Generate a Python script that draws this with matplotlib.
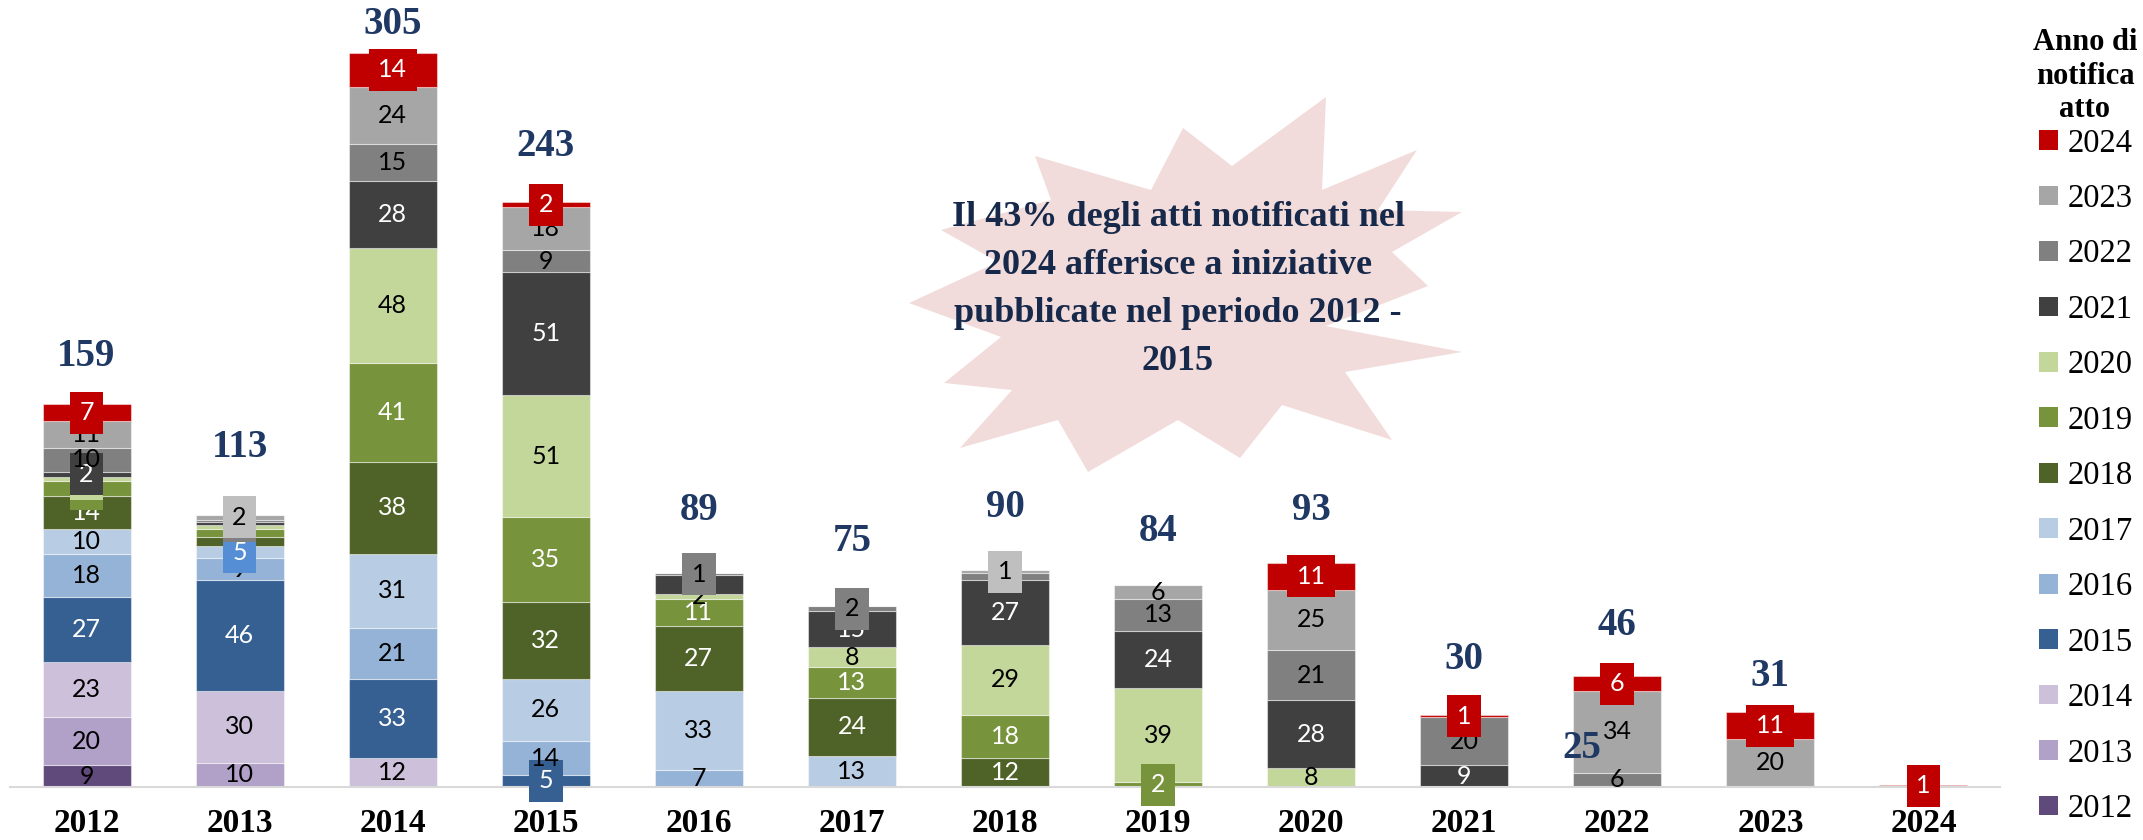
"""
Atti notificati per anno di pubblicazione dell'iniziativa (barre impilate
per anno di notifica dell'atto), con totale sopra ogni barra.

Salida: out.png
"""

import matplotlib

matplotlib.use("Agg")
import matplotlib.pyplot as plt
from matplotlib.patches import Patch, Polygon

# ── Dati ───────────────────────────────────────────────────────────────────────

ANNI_PUBBLICAZIONE = ["2012", "2013", "2014", "2015", "2016", "2017", "2018",
                      "2019", "2020", "2021", "2022", "2023", "2024"]
ANNI_NOTIFICA = ["2012", "2013", "2014", "2015", "2016", "2017", "2018",
                 "2019", "2020", "2021", "2022", "2023", "2024"]

# un elenco per anno di notifica, indicizzato per anno di pubblicazione
NOTIFICA_2012 = [9, 0, 0, 0, 0, 0, 0, 0, 0, 0, 0, 0, 0]
NOTIFICA_2013 = [20, 10, 0, 0, 0, 0, 0, 0, 0, 0, 0, 0, 0]
NOTIFICA_2014 = [23, 30, 12, 0, 0, 0, 0, 0, 0, 0, 0, 0, 0]
NOTIFICA_2015 = [27, 46, 33, 5, 0, 0, 0, 0, 0, 0, 0, 0, 0]
NOTIFICA_2016 = [18, 9, 21, 14, 7, 0, 0, 0, 0, 0, 0, 0, 0]
NOTIFICA_2017 = [10, 5, 31, 26, 33, 13, 0, 0, 0, 0, 0, 0, 0]
NOTIFICA_2018 = [14, 4, 38, 32, 27, 24, 12, 0, 0, 0, 0, 0, 0]
NOTIFICA_2019 = [6, 3, 41, 35, 11, 13, 18, 2, 0, 0, 0, 0, 0]
NOTIFICA_2020 = [2, 2, 48, 51, 2, 8, 29, 39, 8, 0, 0, 0, 0]
NOTIFICA_2021 = [2, 1, 28, 51, 8, 15, 27, 24, 28, 9, 0, 0, 0]
NOTIFICA_2022 = [10, 1, 15, 9, 1, 2, 3, 13, 21, 20, 6, 0, 0]
NOTIFICA_2023 = [11, 2, 24, 18, 0, 0, 1, 6, 25, 0, 34, 20, 0]
NOTIFICA_2024 = [7, 0, 14, 2, 0, 0, 0, 0, 11, 1, 6, 11, 1]

SERIE = [NOTIFICA_2012, NOTIFICA_2013, NOTIFICA_2014, NOTIFICA_2015,
         NOTIFICA_2016, NOTIFICA_2017, NOTIFICA_2018, NOTIFICA_2019,
         NOTIFICA_2020, NOTIFICA_2021, NOTIFICA_2022, NOTIFICA_2023,
         NOTIFICA_2024]

COLORI = ["#604A7B", "#B1A0C7", "#CCC0DA", "#366092", "#95B3D7", "#B8CCE4",
          "#4F6228", "#77933C", "#C4D79B", "#404040", "#808080", "#A6A6A6",
          "#C00000"]
SERIE_TESTO_BIANCO = {"2015", "2018", "2019", "2021", "2024"}

# etichette con riquadro colorato (anno pubblicazione, anno notifica) -> colore
ETICHETTE_RIQUADRO = {
    ("2012", "2019"): "#77933C",
    ("2012", "2020"): "#C4D79B",
    ("2012", "2021"): "#404040",
    ("2013", "2017"): "#558ED5",
    ("2013", "2022"): "#808080",
    ("2013", "2023"): "#BFBFBF",
    ("2015", "2015"): "#366092",
    ("2016", "2022"): "#808080",
    ("2017", "2022"): "#808080",
    ("2018", "2023"): "#BFBFBF",
    ("2019", "2019"): "#77933C",
}
ETICHETTE_NASCOSTE = {("2013", "2018"), ("2013", "2019"),
                      ("2013", "2020"), ("2013", "2021")}

# distanza (in unità) fra cima della barra e totale; None = totale non mostrato
DISTANZA_TOTALE = [20, 28, 12, 23, 26, 27, 26, 22, 22, 23, 21, 15, None]
ETICHETTA_ORFANA = ("25", 9.77, 16.2)  # testo, x, y nel grafico originale

TESTO_NOTA = ("Il 43% degli atti notificati nel\n2024 afferisce a iniziative\n"
              "pubblicate nel periodo 2012 -\n2015")
# sagoma "esplosione" in pixel della figura (x, y dall'alto)
ESPLOSIONE_PX = [
    (1326, 97), (1322, 190), (1417, 150), (1378, 210), (1462, 212),
    (1392, 252), (1428, 286), (1326, 326), (1462, 352), (1345, 372),
    (1392, 440), (1282, 405), (1240, 458), (1178, 420), (1088, 472),
    (1058, 420), (960, 448), (1012, 390), (944, 383), (1001, 337),
    (909, 303), (998, 262), (941, 230), (1051, 200), (1035, 156),
    (1151, 190), (1183, 128), (1232, 166),
]

# ── Stile ──────────────────────────────────────────────────────────────────────

W, H = 2143, 840
BLU_TOTALI = "#1F3864"
SERIF = ["Liberation Serif", "DejaVu Serif"]
SANS = ["Lato", "DejaVu Sans"]
LARGHEZZA_BARRA = 0.575


def disegna_barre(ax):
    x = range(len(ANNI_PUBBLICAZIONE))
    base = [0] * len(ANNI_PUBBLICAZIONE)
    for anno, valori, colore in zip(ANNI_NOTIFICA, SERIE, COLORI):
        ax.bar(x, valori, LARGHEZZA_BARRA, bottom=base, color=colore,
               edgecolor=(1, 1, 1, 0.45), linewidth=0.8, label=anno, zorder=2)
        base = [b + v for b, v in zip(base, valori)]
    return base


def disegna_etichette(ax):
    # serie per serie, come in Excel: i riquadri successivi coprono i precedenti
    base = [0] * len(ANNI_PUBBLICAZIONE)
    z = 3
    for anno, valori in zip(ANNI_NOTIFICA, SERIE):
        for j, v in enumerate(valori):
            pub = ANNI_PUBBLICAZIONE[j]
            if v > 0 and (pub, anno) not in ETICHETTE_NASCOSTE:
                colore_box = ETICHETTE_RIQUADRO.get((pub, anno))
                if anno == "2024":
                    colore_box = "#C00000"
                bianco = anno in SERIE_TESTO_BIANCO or colore_box == "#558ED5"
                bbox = None
                if colore_box:
                    bbox = dict(boxstyle="square,pad=0.38", fc=colore_box,
                                ec="none")
                ax.text(j, base[j] + v / 2, str(v), ha="center", va="center",
                        fontsize=18, family=SANS,
                        color="white" if bianco else "black",
                        bbox=bbox, zorder=z)
                z += 0.01
            base[j] += v


def disegna_totali(ax, totali):
    for j, (tot, gap) in enumerate(zip(totali, DISTANZA_TOTALE)):
        if gap is None:
            continue
        ax.text(j, tot + gap, str(tot), ha="center", va="center",
                fontsize=28, fontweight="bold", family=SERIF,
                color=BLU_TOTALI, zorder=6)
    testo, x, y = ETICHETTA_ORFANA
    ax.text(x, y, testo, ha="center", va="center", fontsize=28,
            fontweight="bold", family=SERIF, color=BLU_TOTALI, zorder=6)


def disegna_nota(fig, ax):
    punti = [(x / W, 1 - y / H) for x, y in ESPLOSIONE_PX]
    ax.add_patch(Polygon(punti, closed=True, transform=fig.transFigure,
                         fc="#F2DCDB", ec="none", zorder=1, clip_on=False))
    fig.text(1178 / W, 1 - 289 / H, TESTO_NOTA, ha="center", va="center",
             multialignment="center", fontsize=26, fontweight="bold",
             family=SERIF, color="#17294A", linespacing=1.6, zorder=7)


def disegna_legenda(fig):
    fig.text(2085 / W, 1 - 76 / H, "Anno di\nnotifica\natto", ha="center",
             va="center", multialignment="center", fontsize=22,
             fontweight="bold", family=SERIF, linespacing=1.2)
    maniglie = [Patch(fc=c, ec="none") for c in COLORI][::-1]
    fig.legend(maniglie, ANNI_NOTIFICA[::-1], loc="upper center",
               bbox_to_anchor=(2086 / W, 1 - 128 / H), frameon=False,
               borderpad=0, borderaxespad=0, handlelength=0.58,
               handleheight=0.55, handletextpad=0.28, labelspacing=0.765,
               prop={"family": SERIF, "size": 23.5})


def main():
    fig = plt.figure(figsize=(W / 100, H / 100), dpi=100)
    ax = fig.add_axes([10 / W, 53 / H, 1990 / W, 787 / H])
    ax.set_facecolor("none")

    totali = disegna_barre(ax)
    disegna_etichette(ax)
    disegna_totali(ax, totali)
    disegna_nota(fig, ax)
    disegna_legenda(fig)

    ax.set_xlim(-0.5, len(ANNI_PUBBLICAZIONE) - 0.5)
    ax.set_ylim(0, 327)
    ax.set_xticks(range(len(ANNI_PUBBLICAZIONE)))
    ax.set_xticklabels(ANNI_PUBBLICAZIONE, fontsize=24, fontweight="bold",
                       family=SERIF)
    ax.tick_params(axis="x", length=0, pad=15)
    ax.set_yticks([])
    for lato in ("top", "left", "right"):
        ax.spines[lato].set_visible(False)
    ax.spines["bottom"].set_color("#D9D9D9")
    ax.spines["bottom"].set_linewidth(1.5)
    ax.spines["bottom"].set_zorder(2.5)

    fig.savefig("out.png", dpi=100)
    plt.close(fig)


if __name__ == "__main__":
    main()
